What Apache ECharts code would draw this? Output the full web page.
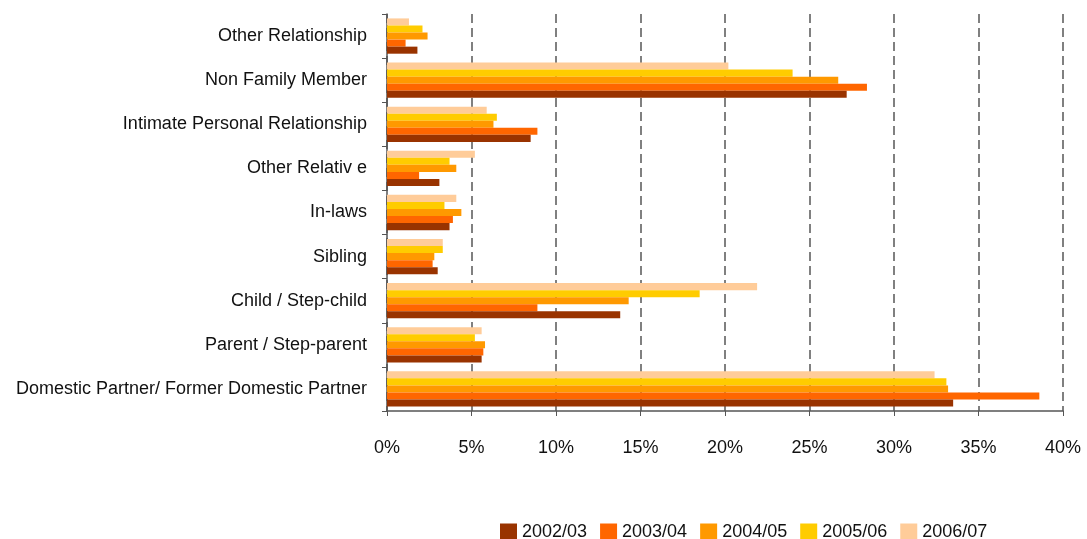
<!DOCTYPE html>
<html>
<head>
<meta charset="utf-8">
<script src="https://cdn.jsdelivr.net/npm/echarts@6/dist/echarts.min.js"></script>
<style>
  html, body { margin: 0; padding: 0; background: #fff; }
  #chart { width: 1087px; height: 539px; }
</style>
</head>
<body>
<div id="chart"></div>
<script>
// categories, top to bottom
const categories = [
  'Other Relationship',
  'Non Family Member',
  'Intimate Personal Relationship',
  'Other Relativ e',
  'In-laws',
  'Sibling',
  'Child / Step-child',
  'Parent / Step-parent',
  'Domestic Partner/ Former Domestic Partner'
];

const years = ['2002/03', '2003/04', '2004/05', '2005/06', '2006/07'];
const colors = ['#993300', '#FF6600', '#FF9900', '#FFCC00', '#FFCC99'];

// percentages, same order as categories
const v2002 = [1.8, 27.2, 8.5, 3.1, 3.7, 3.0, 13.8, 5.6, 33.5];
const v2003 = [1.1, 28.4, 8.9, 1.9, 3.9, 2.7, 8.9, 5.7, 38.6];
const v2004 = [2.4, 26.7, 6.3, 4.1, 4.4, 2.8, 14.3, 5.8, 33.2];
const v2005 = [2.1, 24.0, 6.5, 3.7, 3.4, 3.3, 18.5, 5.2, 33.1];
const v2006 = [1.3, 20.2, 5.9, 5.2, 4.1, 3.3, 21.9, 5.6, 32.4];

const xTicks = [0, 5, 10, 15, 20, 25, 30, 35, 40];

const values = [v2002, v2003, v2004, v2005, v2006];
const font = "'Liberation Sans', Arial, sans-serif";

const chart = echarts.init(document.getElementById('chart'));

// first series is drawn at the top of each group, so go newest first
const order = [4, 3, 2, 1, 0];

chart.setOption({
  animation: false,
  textStyle: { fontFamily: font },
  grid: { left: 387, right: 24, top: 14, bottom: 128, outerBoundsMode: 'none', containLabel: false },
  legend: {
    data: years,
    left: 495,
    top: 518,
    icon: 'rect',
    itemWidth: 17,
    itemHeight: 17,
    itemGap: 13,
    textStyle: { fontFamily: font, fontSize: 18, color: '#111' }
  },
  xAxis: {
    type: 'value',
    min: xTicks[0],
    max: xTicks[xTicks.length - 1],
    interval: 5,
    axisLine: { show: true, lineStyle: { color: '#555', width: 1.5 } },
    axisTick: { show: true, length: 5, lineStyle: { color: '#555' } },
    axisLabel: { formatter: '{value}%', margin: 28, fontSize: 18, color: '#111', fontFamily: font },
    splitLine: { show: true, lineStyle: { type: [9, 5], color: '#808080', width: 2 } }
  },
  yAxis: {
    type: 'category',
    data: categories,
    inverse: true,
    axisLine: { show: true, lineStyle: { color: '#555', width: 1.5 } },
    axisTick: { show: true, length: 5, lineStyle: { color: '#555' } },
    axisLabel: { margin: 20, fontSize: 18, color: '#111', fontFamily: font }
  },
  series: order.map(i => ({
    name: years[i],
    type: 'bar',
    data: values[i],
    barGap: '0%',
    barCategoryGap: '20%',
    itemStyle: { color: colors[i] }
  }))
});
</script>
</body>
</html>
